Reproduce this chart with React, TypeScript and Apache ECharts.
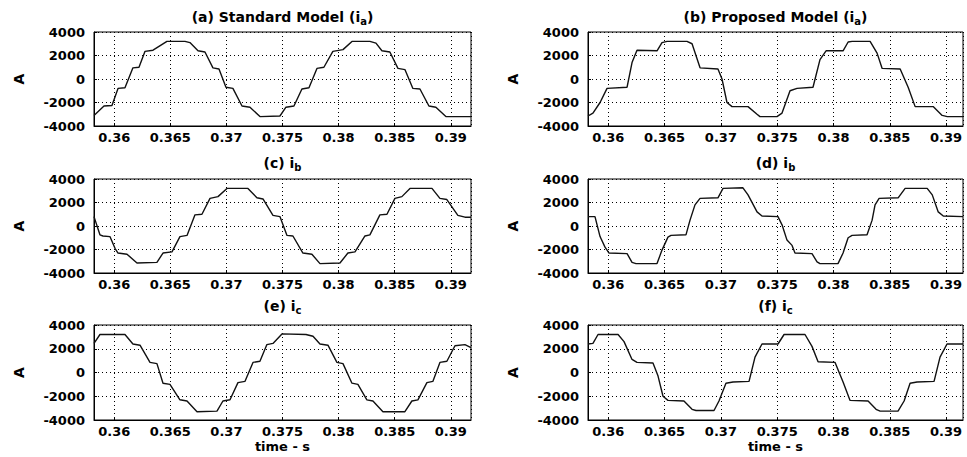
import React, { useEffect, useRef } from "react";
import * as echarts from "echarts";

type Pt = [number, number];

// Phase currents (A) against time (s), read as polyline vertices.
// Standard model
const stdIa: Pt[] = [
  [0.3582, -3100], [0.35909, -2300], [0.3598, -2250], [0.36034, -800], [0.36096, -750],
  [0.36167, 950], [0.36221, 1000], [0.36274, 2350], [0.36346, 2450], [0.3647, 3200],
  [0.36631, 3200], [0.36675, 3100], [0.36747, 2400], [0.36809, 2300], [0.3688, 950],
  [0.36934, 850], [0.36996, -700], [0.37058, -800], [0.37139, -2300], [0.3721, -2400],
  [0.37299, -3200], [0.37477, -3150], [0.37531, -2400], [0.37602, -2300], [0.37673, -850],
  [0.37736, -750], [0.37807, 900], [0.37869, 1000], [0.37949, 2350], [0.38039, 2500],
  [0.38119, 3200], [0.38279, 3200], [0.38333, 3050], [0.38386, 2400], [0.38457, 2300],
  [0.38529, 900], [0.38591, 800], [0.38662, -800], [0.38725, -850], [0.38805, -2300],
  [0.38867, -2400], [0.38956, -3200], [0.3918, -3200],
];

const stdIb: Pt[] = [
  [0.3582, 800], [0.35873, -750], [0.359, -850], [0.35962, -900], [0.36007, -1900],
  [0.36034, -2300], [0.36114, -2400], [0.36203, -3150], [0.36381, -3100], [0.36435, -2300],
  [0.36515, -2200], [0.36586, -900], [0.36649, -800], [0.3672, 950], [0.36782, 1000],
  [0.36854, 2350], [0.36925, 2500], [0.37005, 3200], [0.37192, 3200], [0.37272, 2400],
  [0.37326, 2300], [0.37415, 900], [0.37477, 800], [0.3754, -800], [0.37593, -850],
  [0.37682, -2300], [0.37762, -2400], [0.37834, -3200], [0.38012, -3150], [0.38083, -2300],
  [0.38146, -2200], [0.38235, -850], [0.38279, -750], [0.38368, 950], [0.38431, 1000],
  [0.38502, 2350], [0.38564, 2500], [0.38636, 3200], [0.38832, 3200], [0.38903, 2350],
  [0.38965, 2250], [0.39063, 900], [0.39126, 750], [0.3918, 750],
];

const stdIc: Pt[] = [
  [0.3582, 2450], [0.35873, 3200], [0.36096, 3200], [0.36167, 2400], [0.3623, 2300],
  [0.36319, 850], [0.36381, 750], [0.36435, -900], [0.36497, -1000], [0.36586, -2300],
  [0.36649, -2400], [0.36738, -3300], [0.36916, -3250], [0.36969, -2400], [0.37032, -2300],
  [0.37103, -850], [0.37165, -750], [0.37237, 850], [0.37299, 950], [0.37361, 2350],
  [0.37415, 2450], [0.37495, 3250], [0.37709, 3200], [0.37772, 3050], [0.37834, 2400],
  [0.37905, 2300], [0.37985, 850], [0.38039, 750], [0.38119, -900], [0.38172, -1000],
  [0.38252, -2300], [0.38306, -2400], [0.38395, -3300], [0.38591, -3300], [0.38653, -2400],
  [0.38707, -2300], [0.38787, -850], [0.3884, -750], [0.38903, 850], [0.38965, 950],
  [0.39037, 2250], [0.39126, 2350], [0.3918, 2100],
];

// Proposed model
const propIa: Pt[] = [
  [0.3582, -3150], [0.35864, -2900], [0.35927, -2000], [0.35989, -800], [0.36167, -700],
  [0.36211, 1400], [0.36255, 2450], [0.36433, 2400], [0.36477, 3100], [0.36522, 3200],
  [0.36699, 3200], [0.36744, 3000], [0.36815, 950], [0.36974, 850], [0.3701, 0],
  [0.37054, -2000], [0.37099, -2350], [0.37241, -2350], [0.37321, -3000], [0.37347, -3200],
  [0.37498, -3200], [0.37543, -2900], [0.37614, -1000], [0.37676, -800], [0.37818, -700],
  [0.3788, 1650], [0.37934, 2400], [0.38085, 2400], [0.3813, 3150], [0.38165, 3200],
  [0.38325, 3200], [0.38387, 2200], [0.38432, 900], [0.38592, 850], [0.38663, -700],
  [0.38725, -2350], [0.38885, -2350], [0.38965, -3100], [0.3901, -3200], [0.3915, -3200],
];

const propIb: Pt[] = [
  [0.3582, 800], [0.35882, 800], [0.35927, -900], [0.35971, -1800], [0.36007, -2300],
  [0.36167, -2350], [0.36211, -3100], [0.36246, -3200], [0.36433, -3200], [0.36477, -2050],
  [0.3653, -950], [0.36557, -800], [0.3669, -750], [0.36726, 500], [0.3677, 1800],
  [0.36815, 2350], [0.36974, 2400], [0.37019, 3200], [0.37196, 3250], [0.37241, 2650],
  [0.37321, 1200], [0.37365, 850], [0.37507, 800], [0.37543, 100], [0.37587, -1200],
  [0.37632, -1650], [0.37658, -2300], [0.37809, -2350], [0.37854, -3050], [0.3788, -3200],
  [0.3804, -3200], [0.38085, -2300], [0.3813, -1000], [0.38165, -800], [0.38298, -750],
  [0.38343, 500], [0.38369, 1800], [0.38405, 2350], [0.38574, 2400], [0.38636, 3200],
  [0.38832, 3200], [0.38877, 2650], [0.3893, 1200], [0.38975, 850], [0.3915, 800],
];

const propIc: Pt[] = [
  [0.3582, 2400], [0.35864, 2450], [0.35909, 3200], [0.36087, 3200], [0.3614, 2600],
  [0.36211, 1100], [0.36255, 850], [0.36397, 800], [0.36442, -300], [0.36486, -2000],
  [0.3653, -2350], [0.36672, -2400], [0.36744, -3100], [0.36779, -3200], [0.36939, -3200],
  [0.36983, -2400], [0.37045, -900], [0.37108, -800], [0.3725, -750], [0.37303, 1300],
  [0.37365, 2400], [0.37507, 2400], [0.37561, 3200], [0.37747, 3200], [0.37809, 2200],
  [0.37863, 900], [0.38014, 850], [0.38085, -800], [0.38147, -2350], [0.38307, -2400],
  [0.38378, -3100], [0.38414, -3250], [0.38573, -3250], [0.38627, -2400], [0.3868, -900],
  [0.38742, -800], [0.38893, -750], [0.38946, 1300], [0.39008, 2400], [0.3915, 2400],
];

const panelTitles = [
  "(a) Standard Model (i{s|a})",
  "(b) Proposed Model (i{s|a})",
  "(c) i{s|b}",
  "(d) i{s|b}",
  "(e) i{s|c}",
  "(f) i{s|c}",
];
const panelData = [stdIa, propIa, stdIb, propIb, stdIc, propIc];
const yTicks = { min: -4000, max: 4000, step: 2000 };
const xLeftRange = [0.3582, 0.3918];
const xRightRange = [0.3582, 0.3915];
const yName = "A";
const xName = "time - s";

const FONT = "DejaVu Sans";
const INK = "#000";

export default function App() {
  const ref = useRef<HTMLDivElement>(null);

  useEffect(() => {
    if (!ref.current) return;
    const chart = echarts.init(ref.current, undefined, { renderer: "svg" });

    const cols = [
      { left: 94, width: 377, range: xLeftRange },
      { left: 588, width: 375, range: xRightRange },
    ];
    const rows = [
      { top: 32, height: 94, titleTop: 10 },
      { top: 179, height: 94, titleTop: 156 },
      { top: 325, height: 95, titleTop: 299 },
    ];

    const grids: any[] = [];
    const xAxes: any[] = [];
    const yAxes: any[] = [];
    const series: any[] = [];
    const titles: any[] = [];

    const gridLine = { show: true, lineStyle: { color: INK, width: 1, type: [1, 3] } };
    const tickLabel = { color: INK, fontFamily: FONT, fontSize: 13, fontWeight: "bold" };

    panelData.forEach((data, i) => {
      const r = rows[Math.floor(i / 2)];
      const c = cols[i % 2];
      const bottomRow = Math.floor(i / 2) === 2;
      grids.push({
        left: c.left,
        top: r.top,
        width: c.width,
        height: r.height,
        show: true,
        borderColor: INK,
        borderWidth: 1,
        backgroundColor: "#fff",
      });
      xAxes.push({
        type: "value",
        gridIndex: i,
        min: c.range[0],
        max: c.range[1],
        splitNumber: 7,
        axisLine: { show: true, onZero: false, lineStyle: { color: INK, width: 1 } },
        axisTick: { show: true, inside: true, length: 3, lineStyle: { color: INK } },
        splitLine: gridLine,
        axisLabel: {
          ...tickLabel,
          margin: 5,
          showMinLabel: false,
          showMaxLabel: false,
          formatter: (v: number) => String(+v.toFixed(4)),
        },
        name: bottomRow ? xName : "",
        nameLocation: "middle",
        nameGap: 20,
        nameTextStyle: { color: INK, fontFamily: FONT, fontSize: 13, fontWeight: "bold" },
      });
      yAxes.push({
        type: "value",
        gridIndex: i,
        min: yTicks.min,
        max: yTicks.max,
        interval: yTicks.step,
        axisLine: { show: true, lineStyle: { color: INK, width: 1 } },
        axisTick: { show: true, inside: true, length: 3, lineStyle: { color: INK } },
        splitLine: gridLine,
        axisLabel: { ...tickLabel, margin: 9, formatter: (v: number) => String(v) },
        name: yName,
        nameLocation: "middle",
        nameRotate: 90,
        nameGap: 68,
        nameTextStyle: { color: INK, fontFamily: FONT, fontSize: 14, fontWeight: "bold" },
      });
      series.push({
        type: "line",
        xAxisIndex: i,
        yAxisIndex: i,
        data,
        showSymbol: false,
        clip: true,
        lineStyle: { color: "#111", width: 1.4 },
      });
      titles.push({
        text: panelTitles[i],
        left: c.left + c.width / 2,
        top: r.titleTop,
        textAlign: "center",
        padding: 0,
        textStyle: {
          color: INK,
          fontFamily: FONT,
          fontSize: 14,
          fontWeight: "bold",
          rich: {
            s: {
              fontFamily: FONT,
              fontSize: 10,
              fontWeight: "bold",
              color: INK,
              lineHeight: 10,
              padding: [8, 0, 0, 0],
            },
          },
        },
      });
    });

    chart.setOption({
      animation: false,
      backgroundColor: "#fff",
      title: titles,
      grid: grids,
      xAxis: xAxes,
      yAxis: yAxes,
      series,
    });

    return () => chart.dispose();
  }, []);

  return (
    <div
      ref={ref}
      style={{ position: "fixed", left: 0, top: 0, width: 967, height: 457, background: "#fff" }}
    />
  );
}
